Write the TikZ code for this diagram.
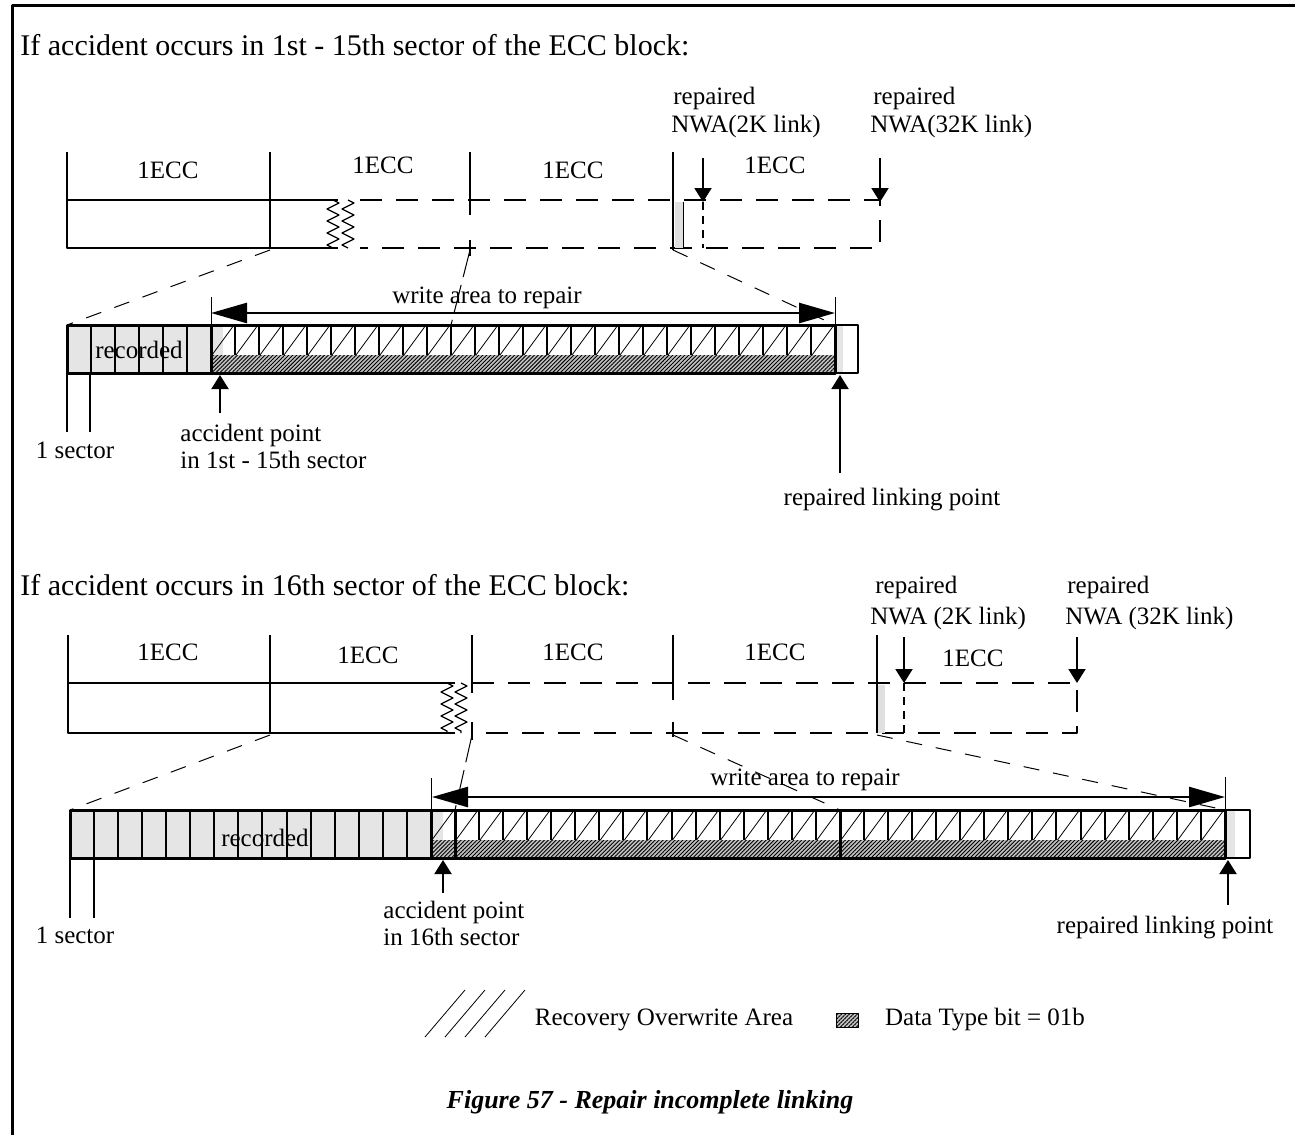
\documentclass[tikz,border=0pt]{standalone}
\usepackage{fontspec}
\setmainfont{Liberation Serif}
\usetikzlibrary{arrows.meta,decorations.pathmorphing,patterns.meta}
\tikzset{
eccline/.style={line width=1pt},
eccdash/.style={line width=1pt,dash pattern=on 11pt off 7pt},
dotline/.style={line width=.8pt,dash pattern=on 4pt off 3pt},
proj/.style={line width=.5pt,dash pattern=on 8pt off 7pt},
bar/.style={line width=1.5pt},
recgrey/.style={fill=black!10},
datatype/.style={fill=gray!50,postaction={pattern={Lines[angle=45,distance=1.4pt,line width=.45pt]}}},
zig/.style={decorate,decoration={zigzag,segment length=6pt,amplitude=3pt},line width=.6pt},
bigarrow/.style={line width=1.3pt,{Triangle[length=18pt,width=10pt]}-{Triangle[length=18pt,width=10pt]}},
smallarrow/.style={line width=1pt,-{Triangle[length=7pt,width=8.5pt]}},
lbl/.style={inner sep=0pt,anchor=west},
head/.style={inner sep=0pt,anchor=west,font=\fontsize{15}{18}\selectfont}
}
\begin{document}
\begin{tikzpicture}[x=.5pt,y=-.5pt,font=\fontsize{12.5}{15}\selectfont,line join=round]
\useasboundingbox (0,0) rectangle (1295,1135);
\draw[line width=1.5pt] (12,1135)--(12,5)--(1295,5);

% ---------- case 1: 1st - 15th sector
\node[head] (headA) at (20,45) {If accident occurs in 1st - 15th sector of the ECC block:};
\path
(703,158)coordinate(nwaA)
(703,202)coordinate(nwaAe)
(880,158)coordinate(nwbA)
(880,202)coordinate(nwbAe)
(220,413)coordinate(accA)
(220,375)coordinate(accAe)
(840,473)coordinate(linkA)
(840,375)coordinate(linkAe)
(211,313)coordinate(wlA)
(835,313)coordinate(wrA);
% ECC row
\draw[eccline] (67,152)--(67,248)--(338,248) (67,200)--(338,200) (270,152)--(270,248)
 (470,152)--(470,215) (470,240)--(470,256) (673,152)--(673,250);
\draw[zig] (333,200)--(333,248);
\draw[zig] (348,200)--(348,248);
\draw[eccdash] (360,200)--(880,200)--(880,248)--(360,248);
\fill[black!12] (675,202) rectangle (683,248);
\draw[thin] (683,202)--(683,248);
\draw[dotline] (703,202)--(703,248);
\draw[smallarrow] (nwaA)--(nwaAe);
\draw[smallarrow] (nwbA)--(nwbAe);
\foreach \p/\q [count=\n] in {168/170,383/165,573/170,775/165}
\node (eccA\n) at (\p,\q) {1ECC};
\node[lbl] (repA1) at (673,98) {repaired};
\node[lbl] (nwaAt) at (671,126) {NWA(2K link)};
\node[lbl] (repA2) at (873,98) {repaired};
\node[lbl] (nwbAt) at (870,126) {NWA(32K link)};
% projection
\draw[proj] (270,250)--(67,325) (673,250)--(835,325);
\draw[line width=.5pt,dash pattern=on 14pt off 4pt] (470,250)--(451,325);
% sector bar
\fill[recgrey] (67,325) rectangle (211,373);
\fill[recgrey] (211,325) rectangle (223,355);
\fill[datatype] (211,355) rectangle (835,373);
\foreach \i in {1,...,5}
\draw[eccline] ({67+24*\i},325)--({67+24*\i},373);
\foreach \i in {6,...,31}{
\draw[eccline] ({67+24*\i},325)--({67+24*\i},355);
\draw[thin] ({67+24*\i+1},355)--({67+24*(\i+1)-1},325);
}
\draw[bar] (67,325) rectangle (835,373) (211,325)--(211,373) (835,325)--(835,373);
\fill[recgrey] (837,325) rectangle (843,373);
\draw[eccline] (835,325) rectangle (858,373);
\node (recA) at (139,350) {recorded};
\draw[thin] (211,297)--(211,325) (835,297)--(835,325);
\draw[bigarrow] (wlA)--(wrA);
\node (wrtA) at (487,298) {write area to repair};
\draw[eccline] (67,373)--(67,432) (90,373)--(90,432);
\node (secA) at (75,450) {1 sector};
\draw[smallarrow] (accA)--(accAe);
\node[lbl] (accAt1) at (180,435) {accident point};
\node[lbl] (accAt2) at (180,460) {in 1st - 15th sector};
\draw[smallarrow] (linkA)--(linkAe);
\node (linkAt) at (892,500) {repaired linking point};

% ---------- case 2: 16th sector
\node[head] (headB) at (20,585) {If accident occurs in 16th sector of the ECC block:};
\path
(904,637)coordinate(nwaB)
(904,683)coordinate(nwaBe)
(1077,637)coordinate(nwbB)
(1077,683)coordinate(nwbBe)
(443,893)coordinate(accB)
(443,860)coordinate(accBe)
(1228,905)coordinate(linkB)
(1228,860)coordinate(linkBe)
(432,797)coordinate(wlB)
(1225,797)coordinate(wrB);
% ECC row
\draw[eccline] (68,635)--(68,733)--(455,733) (68,683)--(455,683) (270,635)--(270,733)
 (472,635)--(472,693) (472,722)--(472,740) (673,635)--(673,700) (673,722)--(673,737)
 (877,635)--(877,733);
\draw[zig] (447,683)--(447,733);
\draw[zig] (461,683)--(461,733);
\draw[eccdash] (472,683)--(1077,683)--(1077,733)--(472,733);
\fill[black!12] (878,685) rectangle (885,733);
\draw[dotline] (904,683)--(904,733);
\draw[smallarrow] (nwaB)--(nwaBe);
\draw[smallarrow] (nwbB)--(nwbBe);
\foreach \p/\q [count=\n] in {168/652,368/655,573/652,775/652,973/658}
\node (eccB\n) at (\p,\q) {1ECC};
\node[lbl] (repB1) at (875,587) {repaired};
\node[lbl] (nwaBt) at (870,618) {NWA (2K link)};
\node[lbl] (repB2) at (1067,587) {repaired};
\node[lbl] (nwbBt) at (1065,618) {NWA (32K link)};
% projection
\draw[proj] (270,735)--(70,810) (673,735)--(840,810) (877,735)--(1225,810);
\draw[line width=.5pt,dash pattern=on 14pt off 4pt] (472,735)--(455,810);
% sector bar
\fill[recgrey] (70,810) rectangle (431,858);
\fill[recgrey] (431,810) rectangle (443,840);
\fill[datatype] (431,840) rectangle (1225,858);
\foreach \i in {1,...,14}
\draw[eccline] ({70+24.06*\i},810)--({70+24.06*\i},858);
\foreach \i in {15,...,47}{
\draw[eccline] ({70+24.06*\i},810)--({70+24.06*\i},840);
\draw[thin] ({70+24.06*\i+1},840)--({70+24.06*(\i+1)-1},810);
}
\draw[bar] (70,810) rectangle (1225,858) (431,810)--(431,858) (1225,810)--(1225,858)
 (455,810)--(455,858) (840,810)--(840,858);
\fill[recgrey] (1227,810) rectangle (1235,858);
\draw[eccline] (1225,810) rectangle (1250,858);
\node (recB) at (265,838) {recorded};
\draw[thin] (431,778)--(431,810) (1225,777)--(1225,810);
\draw[bigarrow] (wlB)--(wrB);
\node (wrtB) at (805,780) {write area to repair};
\draw[eccline] (70,858)--(70,918) (94,858)--(94,918);
\node (secB) at (75,935) {1 sector};
\draw[smallarrow] (accB)--(accBe);
\node[lbl] (accBt1) at (383,912) {accident point};
\node[lbl] (accBt2) at (383,937) {in 16th sector};
\draw[smallarrow] (linkB)--(linkBe);
\node (linkBt) at (1165,928) {repaired linking point};

% ---------- legend
\foreach \k in {0,...,3}
\draw[thin] ({425+20*\k},1037)--({465+20*\k},990);
\node (legA) at (664,1020) {Recovery Overwrite Area};
\draw[datatype] (836,1013) rectangle (858,1027);
\draw[thin] (836,1013) rectangle (858,1027);
\node (legB) at (985,1020) {Data Type bit = 01b};
\node (title) at (650,1102) {\fontsize{13}{16}\selectfont\bfseries\itshape Figure 57 - Repair incomplete linking};
\end{tikzpicture}
\end{document}
